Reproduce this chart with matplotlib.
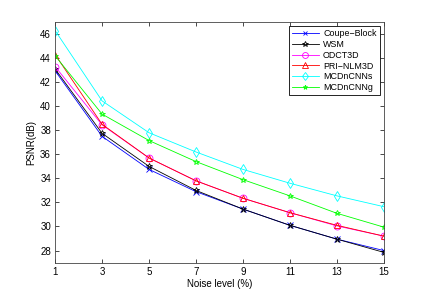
import numpy as np
import matplotlib
matplotlib.use('Agg')
from matplotlib import pyplot as plt

plt.rcParams['font.family'] = ['Liberation Sans', 'DejaVu Sans']

# noise levels (%)
noise = [1, 3, 5, 7, 9, 11, 13, 15]

# PSNR (dB) per method
coupe_block = [42.95, 37.5, 34.75, 32.9, 31.45, 30.1, 28.95, 28.0]
wsm = [43.1, 37.75, 35.0, 33.0, 31.45, 30.1, 28.95, 27.85]
odct3d = [43.3, 38.45, 35.7, 33.8, 32.35, 31.15, 30.05, 29.2]
pri_nlm3d = [44.3, 38.5, 35.7, 33.8, 32.35, 31.15, 30.1, 29.2]
mcdncnns = [46.3, 40.45, 37.8, 36.2, 34.75, 33.6, 32.55, 31.65]
mcdncnng = [44.2, 39.35, 37.15, 35.4, 33.9, 32.55, 31.1, 29.95]

labels = ['Coupe\u2212Block', 'WSM', 'ODCT3D', 'PRI\u2212NLM3D', 'MCDnCNNs', 'MCDnCNNg']
series = [coupe_block, wsm, odct3d, pri_nlm3d, mcdncnns, mcdncnng]
colors = ['#0000ff', '#000000', '#ff00ff', '#ff0000', '#00ffff', '#00ff00']
markers = ['x', '*', 'o', '^', 'd', '*']
msizes = [4, 5, 5, 5, 5, 4]

fig = plt.figure(figsize=(4.24, 2.95), dpi=100)
ax = fig.add_axes([0.13, 0.11, 0.775, 0.815])

for y, lab, c, m, ms in zip(series, labels, colors, markers, msizes):
    ax.plot(noise, y, color=c, marker=m, markersize=ms, markerfacecolor='none',
            markeredgewidth=0.6, linewidth=0.6, label=lab)

ax.set_xlim(1, 15)
ax.set_ylim(27, 47)
ax.set_xticks(np.arange(1, 16, 2))
ax.set_yticks(np.arange(28, 47, 2))
ax.tick_params(direction='in', top=True, right=True, labelsize=7, length=3,
               width=0.5, pad=3)
for s in ax.spines.values():
    s.set_linewidth(0.6)
    s.set_color('#444444')

ax.set_xlabel('Noise level (%)', fontsize=7, labelpad=2)
ax.set_ylabel('PSNR(dB)', fontsize=7, labelpad=3)

leg = ax.legend(loc='upper right', fontsize=6.4, fancybox=False, framealpha=1,
                edgecolor='black', handlelength=3.0, labelspacing=0.2,
                borderpad=0.35, handletextpad=0.5, borderaxespad=0.45,
                markerscale=0.85)
leg.get_frame().set_linewidth(0.6)

fig.savefig('out.png', dpi=100)
